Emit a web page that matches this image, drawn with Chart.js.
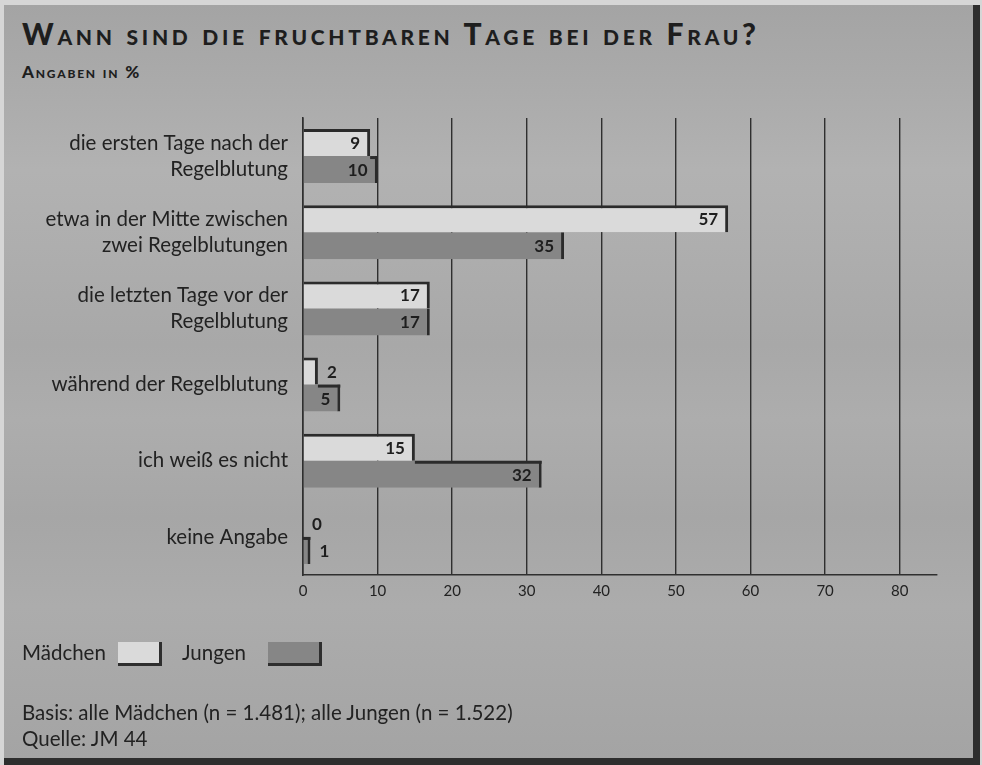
<!DOCTYPE html>
<html lang="de">
<head>
<meta charset="utf-8">
<title>Wann sind die fruchtbaren Tage bei der Frau?</title>
<script src="https://cdn.jsdelivr.net/npm/chart.js@4.4.1/dist/chart.umd.min.js"></script>
<style>
  html, body { margin: 0; padding: 0; }
  body { width: 982px; height: 765px; background: #d6d6d6; position: relative; overflow: hidden; font-family: Lato, "DejaVu Sans", sans-serif; color: #222; }
  .panneau {
    position: absolute; left: 4px; top: 5px; width: 969px; height: 753px;
    background: linear-gradient(to bottom, #a4a4a4 0%, #aaaaaa 10%, #b2b2b2 22%, #aeaeae 32%, #a8a8a8 45%, #adadad 55%, #a6a6a6 68%, #acacac 80%, #a4a4a4 100%);
    border-right: 7px solid #2e2e2e; border-bottom: 7px solid #2e2e2e;
  }
  #graphique { position: absolute; left: 0; top: 0; }
  .titre { position: absolute; left: 22px; top: 15px; font-size: 30px; font-weight: 900; font-variant: small-caps; letter-spacing: 3.7px; color: #1e1e1e; white-space: nowrap; }
  .sous-titre { position: absolute; left: 22px; top: 61px; font-size: 17px; font-weight: 900; font-variant: small-caps; letter-spacing: 1.8px; color: #1e1e1e; }
  .legende { position: absolute; font-size: 20.5px; top: 640px; }
  .case { position: absolute; top: 642px; height: 21px; border-right: 3px solid #2e2e2e; border-bottom: 3px solid #2e2e2e; }
  .note { position: absolute; left: 22px; top: 699px; font-size: 20.5px; line-height: 26px; white-space: nowrap; }
</style>
</head>
<body>
<div class="panneau"></div>
<div class="titre">Wann sind die fruchtbaren Tage bei der Frau?</div>
<div class="sous-titre">Angaben in %</div>
<canvas id="graphique" width="982" height="765"></canvas>
<span class="legende" style="left:22px">Mädchen</span>
<span class="case" style="left:118px; width:41px; background:#dadada"></span>
<span class="legende" style="left:182px">Jungen</span>
<span class="case" style="left:268px; width:51px; background:#868686"></span>
<div class="note">Basis: alle Mädchen (n = 1.481); alle Jungen (n = 1.522)<br>Quelle: JM 44</div>

<script>
// Données du graphique
const categories = [
  ["die ersten Tage nach der", "Regelblutung"],
  ["etwa in der Mitte zwischen", "zwei Regelblutungen"],
  ["die letzten Tage vor der", "Regelblutung"],
  "während der Regelblutung",
  "ich weiß es nicht",
  "keine Angabe"
];
const valeursMaedchen = [9, 57, 17, 2, 15, 0];
const valeursJungen = [10, 35, 17, 5, 32, 1];
const graduations = [0, 10, 20, 30, 40, 50, 60, 70, 80];

const couleurBord = "#2b2b2b";

// Plugin : trait d'ombre sur le dessus des barres "Jungen" qui dépassent la barre "Mädchen"
const traitsOmbre = {
  id: "traitsOmbre",
  afterDatasetsDraw(chart) {
    const ctx = chart.ctx;
    const metaM = chart.getDatasetMeta(0);
    const metaJ = chart.getDatasetMeta(1);
    ctx.save();
    ctx.fillStyle = couleurBord;
    metaJ.data.forEach((barreJ, j) => {
      const barreM = metaM.data[j];
      if (barreJ.x > barreM.x) {
        const haut = barreJ.y - barreJ.height / 2;
        ctx.fillRect(barreM.x, haut, barreJ.x - barreM.x, 3);
      }
    });
    ctx.restore();
  }
};

// Plugin pour écrire les valeurs au bout des barres
const etiquettesValeurs = {
  id: "etiquettesValeurs",
  afterDatasetsDraw(chart) {
    const ctx = chart.ctx;
    ctx.save();
    ctx.font = "bold 17px Lato, sans-serif";
    ctx.fillStyle = "#1e1e1e";
    ctx.textBaseline = "middle";
    chart.data.datasets.forEach((dataset, i) => {
      const meta = chart.getDatasetMeta(i);
      meta.data.forEach((barre, j) => {
        const texte = String(dataset.data[j]);
        const longueur = barre.x - barre.base;
        const largeurTexte = ctx.measureText(texte).width;
        if (longueur > largeurTexte + 18) {
          ctx.textAlign = "right";
          ctx.fillText(texte, barre.x - 10, barre.y + 1);
        } else {
          ctx.textAlign = "left";
          ctx.fillText(texte, barre.x + 9, barre.y + 1);
        }
      });
    });
    ctx.restore();
  }
};

const data = {
  labels: categories,
  datasets: [
    {
      label: "Mädchen",
      data: valeursMaedchen,
      backgroundColor: "#dadada",
      borderColor: couleurBord,
      borderWidth: { top: 3, right: 3, bottom: 0, left: 0 },
      borderSkipped: false,
      categoryPercentage: 0.71,
      barPercentage: 1.0
    },
    {
      label: "Jungen",
      data: valeursJungen,
      backgroundColor: "#868686",
      borderColor: couleurBord,
      borderWidth: { top: 0, right: 3, bottom: 0, left: 0 },
      borderSkipped: false,
      categoryPercentage: 0.71,
      barPercentage: 1.0
    }
  ]
};

const config = {
  type: "bar",
  data: data,
  options: {
    indexAxis: "y",
    responsive: false,
    animation: false,
    layout: { padding: { top: 118, right: 45, bottom: 160, left: 0 } },
    plugins: {
      legend: { display: false },
      tooltip: { enabled: false }
    },
    scales: {
      x: {
        min: 0,
        max: 85,
        afterBuildTicks: (scale) => {
          scale.ticks = graduations.map(v => ({ value: v }));
        },
        afterFit: (scale) => { scale.height = 30; },
        grid: { color: "#2f2f2f", lineWidth: 1.4, drawTicks: false },
        border: { display: true, color: "#2f2f2f", width: 1.6 },
        ticks: { color: "#222", font: { family: "Lato", size: 15 }, padding: 7 }
      },
      y: {
        afterFit: (scale) => { scale.width = 303; },
        grid: { display: false, drawTicks: false },
        border: { display: true, color: "#2f2f2f", width: 1.6 },
        ticks: { color: "#222", font: { family: "Lato", size: 20.5, lineHeight: 1.27 }, padding: 15 }
      }
    }
  },
  plugins: [traitsOmbre, etiquettesValeurs]
};

new Chart(document.querySelector("#graphique"), config);
</script>
</body>
</html>
